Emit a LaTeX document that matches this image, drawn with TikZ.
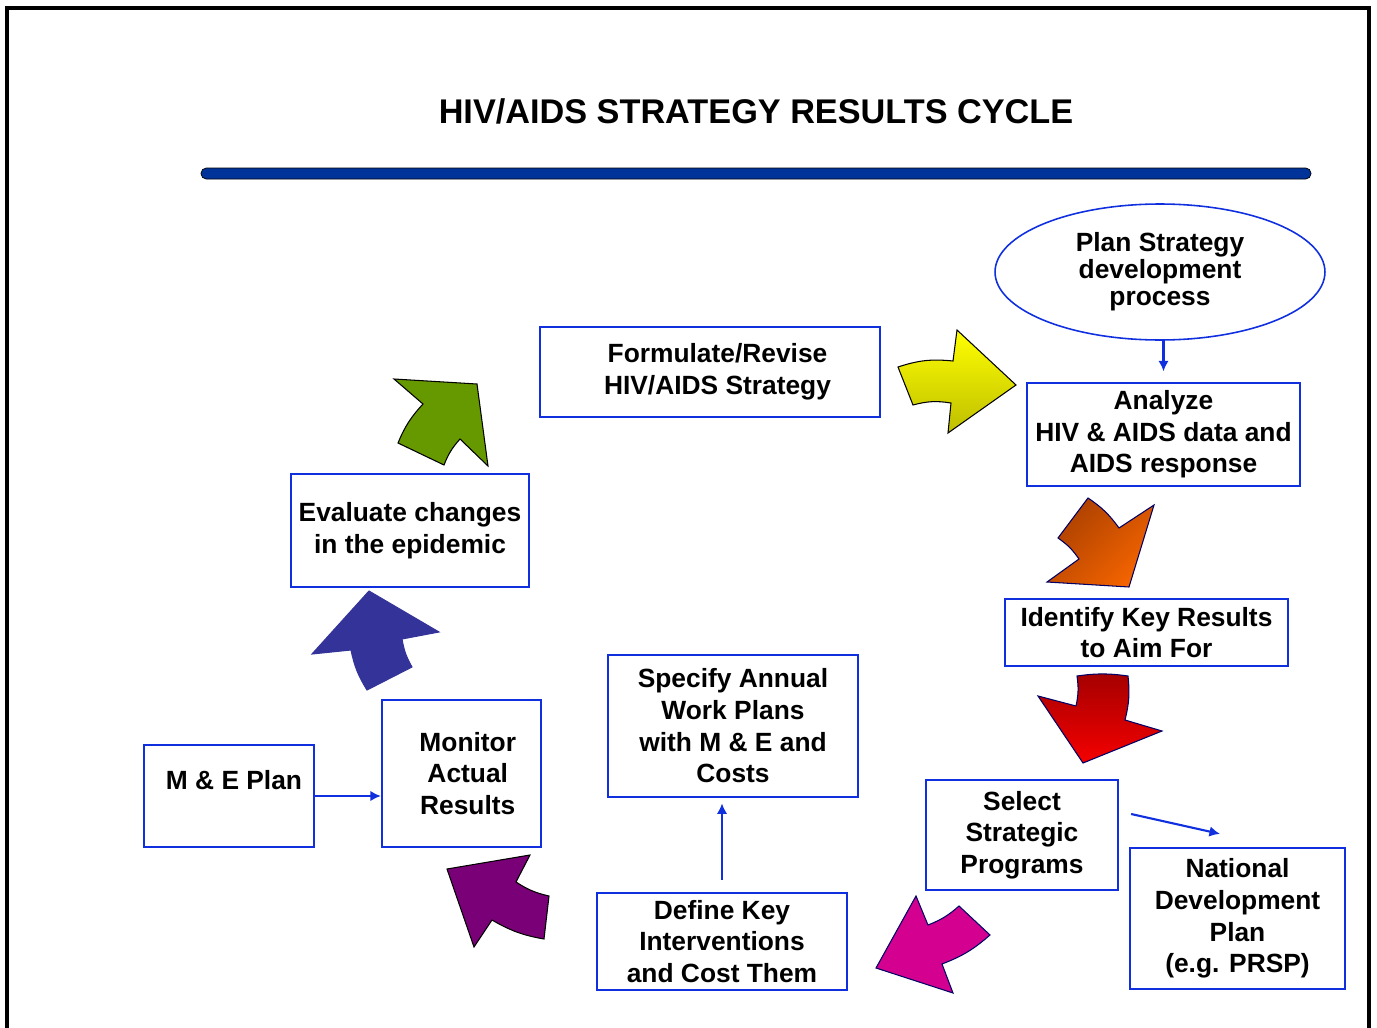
\documentclass[tikz,border=0pt]{standalone}
\usepackage{fontspec}
\setmainfont{Liberation Sans}
\usetikzlibrary{arrows.meta, shapes.geometric}

\definecolor{boxblue}{RGB}{16,48,224}
\definecolor{barblue}{RGB}{0,51,153}
\definecolor{navyline}{RGB}{0,0,102}
\definecolor{yellowlow}{RGB}{190,190,0}
\definecolor{orangetop}{RGB}{170,64,0}
\definecolor{orangelow}{RGB}{245,100,0}
\definecolor{redtop}{RGB}{165,0,0}
\definecolor{redlow}{RGB}{245,0,0}
\definecolor{magentafill}{RGB}{212,0,143}
\definecolor{purplefill}{RGB}{122,0,120}
\definecolor{indigofill}{RGB}{51,51,153}
\definecolor{greenfill}{RGB}{102,153,0}

\begin{document}
\begin{tikzpicture}[x=0.02cm, y=-0.02cm,
        box/.style={draw=boxblue, line width=1.3pt, align=center, inner sep=0pt,
            font=\bfseries\fontsize{15}{18}\selectfont},
        link/.style={draw=boxblue, line width=1.2pt, -{Latex[length=6pt,width=6pt]}},
        bigarrow/.style={draw=black, line width=0.6pt, line join=miter}]
            \useasboundingbox (0,0) rectangle (1377,1028);
            \draw[line width=2.3pt] (7,1028) |- (1369,8) -- (1369,1028);

            % title and bar
            \node[font=\bfseries\fontsize{19.5}{22}\selectfont] (title) at (756,111) {HIV/AIDS STRATEGY RESULTS CYCLE};
            \draw[fill=barblue, line width=0.4pt, rounded corners=3pt] (201,168) rectangle (1311,179);

            % steps of the cycle
            \node[ellipse, draw=boxblue, line width=0.9pt, minimum width=6.6cm, minimum height=2.72cm,
                inner sep=0pt, align=center, font=\bfseries\fontsize{15}{15.3}\selectfont]
                (plan) at (1160,272) {Plan Strategy\\development\\process};
            \node[box, minimum width=6.8cm, minimum height=1.8cm] (formulate) at (710,372) {\hspace*{0.3cm}Formulate/Revise\\\hspace*{0.3cm}HIV/AIDS Strategy};
            \node[box, minimum width=5.46cm, minimum height=2.06cm] (analyze) at (1163.5,434.5) {Analyze\\HIV \& AIDS data and\\AIDS response};
            \node[box, minimum width=5.66cm, minimum height=1.34cm] (identify) at (1146.5,632.5) {Identify Key Results\\to Aim For};
            \node[box, minimum width=3.84cm, minimum height=2.2cm] (select) at (1022,835) {Select\\Strategic\\Programs};
            \node[box, minimum width=4.3cm, minimum height=2.82cm] (national) at (1237.5,918.5) {National\\Development\\Plan\\(e.g. PRSP)};
            \node[box, minimum width=5cm, minimum height=1.94cm] (define) at (722,941.5) {Define Key\\Interventions\\and Cost Them};
            \node[box, minimum width=5cm, minimum height=2.84cm] (specify) at (733,726) {Specify Annual\\Work Plans\\with M \& E and\\Costs};
            \node[box, minimum width=3.18cm, minimum height=2.94cm] (monitor) at (461.5,773.5) {\hspace*{0.25cm}Monitor\\\hspace*{0.25cm}Actual\\\hspace*{0.25cm}Results};
            \node[box, minimum width=3.4cm, minimum height=2.04cm] (me) at (229,796) {\hspace*{0.2cm}M \& E Plan\\\mbox{}};
            \node[box, minimum width=4.76cm, minimum height=2.26cm] (evaluate) at (410,530.5) {Evaluate changes\\in the epidemic};

            \draw[link, shorten >=6pt] (plan.south -| analyze) -- (analyze);
            \draw[link] ([xshift=0.24cm,yshift=0.42cm]select.east) -- ([xshift=-0.35cm,yshift=0.26cm]national.north);
            \draw[link, shorten <=7pt, shorten >=3pt] (define.north) -- (define.north |- specify.south);
            \draw[link] (me.east) -- (me.east -| monitor.west);

            % block arrows round the cycle
            \draw[bigarrow, top color=yellow, bottom color=yellowlow]
                (898,367) to[bend left=12] (953,361) -- (957,330) -- (1016,385) -- (948,433)
                -- (951,403) to[bend right=12] (913,405) -- cycle;
            \draw[bigarrow, draw=navyline, top color=orangetop, bottom color=orangelow, shading angle=45]
                (1088,498) to[bend left=10] (1119,528) -- (1154,505) -- (1129,587) -- (1047,582)
                -- (1079,559) to[bend right=10] (1058,538) -- cycle;
            \draw[bigarrow, draw=navyline, top color=redtop, bottom color=redlow]
                (1077,676) to[bend left=8] (1128,676) to[bend left=10] (1125,720) -- (1162,731)
                -- (1083,763) -- (1038,696) -- (1076,706) to[bend right=10] cycle;
            \draw[bigarrow, draw=navyline, fill=magentafill]
                (959,906) -- (990,935) to[bend left=10] (942,964) -- (953,993) -- (876,968)
                -- (916,896) -- (928,925) to[bend right=10] cycle;
            \draw[bigarrow, fill=purplefill]
                (447,869) -- (530,855) -- (516,882) to[bend right=10] (549,896) -- (544,939)
                to[bend left=10] (492,920) -- (474,947) -- cycle;
            \draw[bigarrow, draw=indigofill, fill=indigofill]
                (369,591) -- (439,632) -- (402,639) to[bend right=10] (412,667) -- (367,690)
                to[bend left=10] (351,650) -- (312,654) -- cycle;
            \draw[bigarrow, fill=greenfill]
                (394,379) -- (477,384) -- (488,466) -- (460,439) to[bend right=10] (444,465)
                -- (398,443) to[bend left=10] (423,404) -- cycle;
        \end{tikzpicture}
\end{document}
